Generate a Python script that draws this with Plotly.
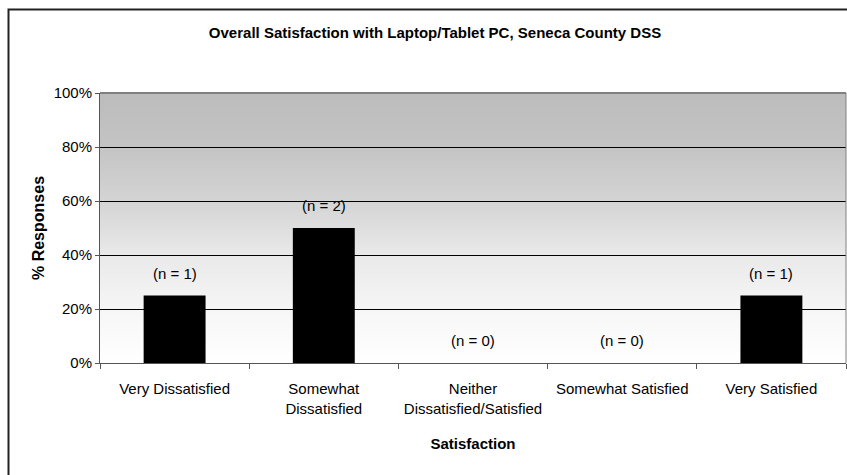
import base64
import plotly.graph_objects as go

categories = ["Very Dissatisfied", "Somewhat<br>Dissatisfied", "Neither<br>Dissatisfied/Satisfied",
              "Somewhat Satisfied", "Very Satisfied"]
percent = [25, 50, 0, 0, 25]
counts = [1, 2, 0, 0, 1]
y_ticks = [0, 20, 40, 60, 80, 100]
y_tick_labels = ["0%", "20%", "40%", "60%", "80%", "100%"]
title_text = "Overall Satisfaction with Laptop/Tablet PC, Seneca County DSS"
x_title = "Satisfaction"
y_title = "% Responses"

FONT = "Liberation Sans, Arial, sans-serif"

xpos = list(range(len(categories)))
n = len(categories)

# vertical gray gradient for the plot-area background
svg = (
    '<svg xmlns="http://www.w3.org/2000/svg" width="100" height="100" preserveAspectRatio="none">'
    '<defs><linearGradient id="g" x1="0" y1="0" x2="0" y2="1">'
    '<stop offset="0" stop-color="#bcbcbc"/>'
    '<stop offset="0.2" stop-color="#c4c4c4"/>'
    '<stop offset="0.4" stop-color="#d4d4d4"/>'
    '<stop offset="0.6" stop-color="#e9e9e9"/>'
    '<stop offset="0.8" stop-color="#f6f6f6"/>'
    '<stop offset="1" stop-color="#ffffff"/>'
    '</linearGradient></defs>'
    '<rect x="0" y="0" width="100" height="100" fill="url(#g)"/></svg>'
)
grad_src = "data:image/svg+xml;base64," + base64.b64encode(svg.encode()).decode()

fig = go.Figure()

fig.add_trace(go.Bar(
    x=xpos, y=percent, width=0.415,
    marker=dict(color="#000000", line=dict(width=0)),
    showlegend=False, hoverinfo="skip",
))

for xi, v, c in zip(xpos, percent, counts):
    fig.add_annotation(x=xi, y=v, text=f"(n = {c})", showarrow=False,
                       yanchor="bottom", yshift=12,
                       font=dict(family=FONT, size=15, color="#000"))

fig.add_layout_image(
    source=grad_src, xref="paper", yref="paper", x=0, y=1,
    sizex=1, sizey=1, sizing="stretch", xanchor="left", yanchor="top",
    layer="below",
)

fig.update_layout(
    width=847, height=475,
    margin=dict(l=100, r=1, t=93, b=112),
    paper_bgcolor="#ffffff", plot_bgcolor="rgba(0,0,0,0)",
    title=dict(text=f"<b>{title_text}</b>", x=435 / 847, xref="container", xanchor="center",
               y=1 - 33 / 475, yanchor="middle",
               font=dict(family=FONT, size=15, color="#000")),
    font=dict(family=FONT, color="#000"),
)

fig.update_xaxes(
    range=[-0.5, n - 0.5], tickmode="array", tickvals=xpos, ticktext=categories,
    tickfont=dict(family=FONT, size=15, color="#000"),
    showgrid=False, zeroline=False,
    showline=True, linecolor="#555555", linewidth=1,
    ticks="", ticklabelstandoff=12,
    minor=dict(tickmode="array", tickvals=[i - 0.5 for i in range(n + 1)],
               ticks="outside", ticklen=5, tickcolor="#555555", showgrid=False),
    title=dict(text=f"<b>{x_title}</b>", standoff=22,
               font=dict(family=FONT, size=15, color="#000")),
    fixedrange=True,
)

fig.update_yaxes(
    range=[0, 100], tickmode="array", tickvals=y_ticks, ticktext=y_tick_labels,
    tickfont=dict(family=FONT, size=15, color="#000"),
    showgrid=True, gridcolor="#000000", gridwidth=1,
    zeroline=False, showline=True, linecolor="#555555", linewidth=1,
    ticks="outside", ticklen=4, tickcolor="#555555",
    title=dict(text=f"<b>{y_title}</b>", standoff=5,
               font=dict(family=FONT, size=16, color="#000")),
    fixedrange=True,
)

# plot-area top/right border (gray)
fig.add_shape(type="line", xref="paper", yref="paper", x0=0, x1=1, y0=1, y1=1,
              line=dict(color="#808080", width=2), layer="above")
fig.add_shape(type="line", xref="paper", yref="paper", x0=1, x1=1, y0=0, y1=1,
              line=dict(color="#808080", width=1), layer="above")

# outer chart frame
fig.add_shape(type="rect", xref="paper", yref="paper",
              x0=(8.5 - 100) / 746, x1=1.2, y0=-0.6, y1=(363 - 9.5) / 270,
              line=dict(color="#222222", width=2), fillcolor="rgba(0,0,0,0)", layer="above")

fig.write_html("out.html")
